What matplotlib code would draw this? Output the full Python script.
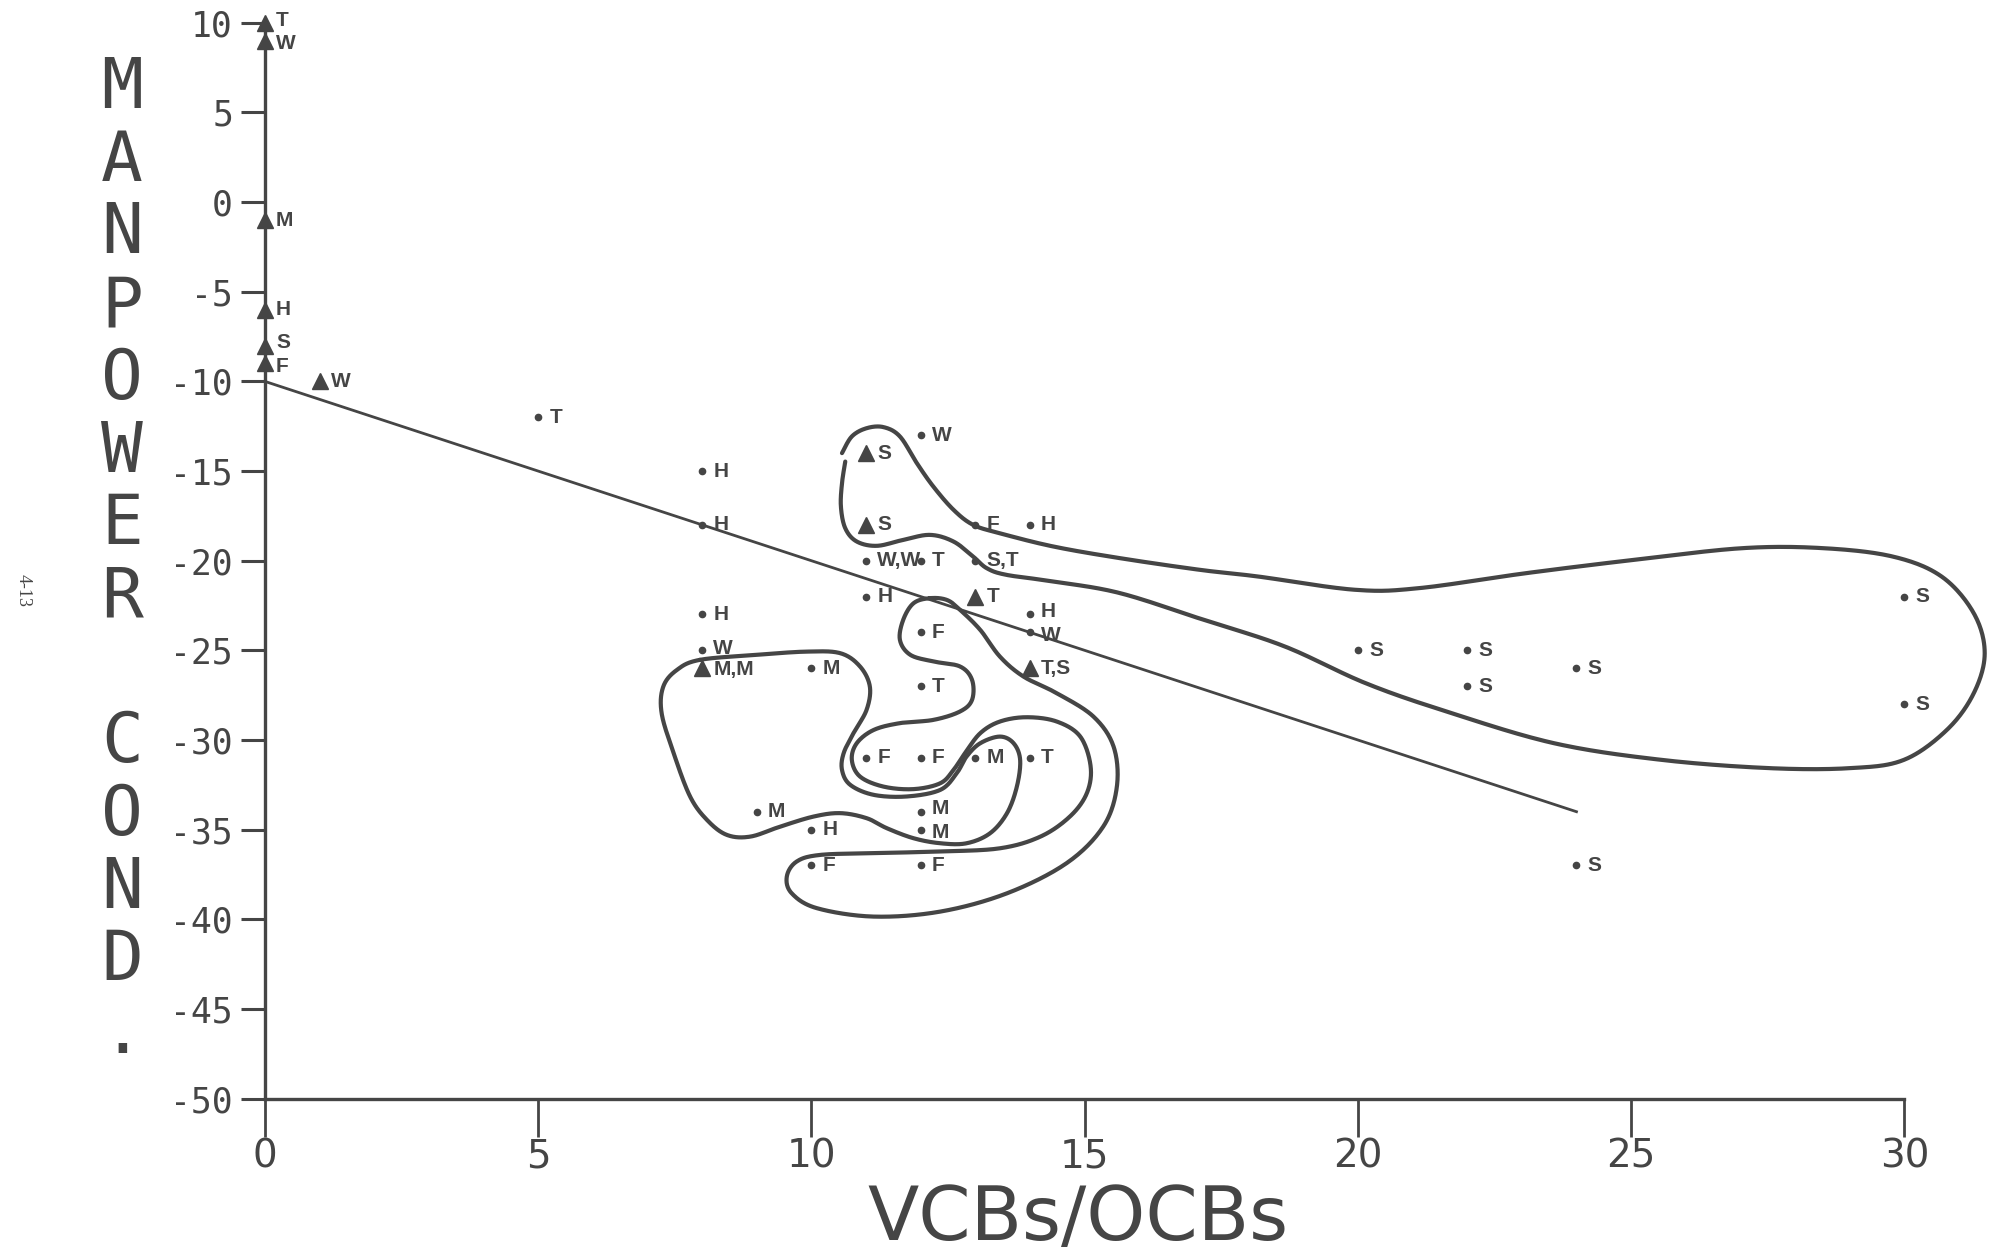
import numpy as np
import matplotlib
matplotlib.use("Agg")
import matplotlib.pyplot as plt

plt.rcParams['axes.unicode_minus'] = False

INK = '#454545'

# ---------------- data ----------------
pt_x = [0, 0, 0, 0, 0, 0, 1, 5, 8, 8, 11, 12, 11, 13, 14, 11, 12, 13, 11, 13,
        8, 14, 14, 12, 8, 8, 10, 14, 12, 20, 22, 22, 24, 30, 30, 24,
        11, 12, 13, 14, 9, 12, 10, 12, 10, 12]
pt_y = [10, 9, -1, -6, -8, -9, -10, -12, -15, -18, -14, -13, -18, -18, -18, -20, -20, -20, -22, -22,
        -23, -23, -24, -24, -25, -26, -26, -26, -27, -25, -25, -27, -26, -22, -28, -37,
        -31, -31, -31, -31, -34, -34, -35, -35, -37, -37]
pt_label = ['T', 'W', 'M', 'H', 'S', 'F', 'W', 'T', 'H', 'H', 'S', 'W', 'S', 'F', 'H', 'W,W', 'T', 'S,T', 'H', 'T',
            'H', 'H', 'W', 'F', 'W', 'M,M', 'M', 'T,S', 'T', 'S', 'S', 'S', 'S', 'S', 'S', 'S',
            'F', 'F', 'M', 'T', 'M', 'M', 'H', 'M', 'F', 'F']
pt_kind = ['tri', 'tri', 'tri', 'tri', 'tri', 'tri', 'tri', 'dot', 'dot', 'dot', 'tri', 'dot', 'tri', 'dot', 'dot', 'dot', 'dot', 'dot', 'dot', 'tri',
           'dot', 'dot', 'dot', 'dot', 'dot', 'tri', 'dot', 'tri', 'dot', 'dot', 'dot', 'dot', 'dot', 'dot', 'dot', 'dot',
           'dot', 'dot', 'dot', 'dot', 'dot', 'dot', 'dot', 'dot', 'dot', 'dot']

# regression line
reg_x = [0, 24]
reg_y = [-10, -34]

# hand-drawn contours (data units)
contour_s = [(10.56, -14.00), (10.74, -13.07), (11.01, -12.61), (11.32, -12.55), (11.62, -13.07),
             (11.93, -14.56), (12.23, -15.86), (12.60, -17.16), (12.96, -18.00), (13.45, -18.47),
             (14.43, -19.21), (15.65, -19.86), (17.11, -20.51), (18.17, -20.88), (19.94, -21.62),
             (21.12, -21.53), (23.09, -20.69), (25.06, -19.95), (27.04, -19.30), (28.51, -19.30),
             (29.79, -19.77), (30.68, -20.88), (31.27, -22.93), (31.47, -25.16), (31.27, -27.39),
             (30.78, -29.43), (29.99, -31.11), (29.01, -31.57), (27.53, -31.57), (25.56, -31.11),
             (23.59, -30.18), (21.62, -28.41), (20.14, -26.83), (18.66, -24.78), (17.18, -23.30),
             (15.65, -21.81), (14.43, -21.16), (13.57, -20.79), (13.21, -20.42), (12.96, -19.77),
             (12.60, -18.93), (12.17, -18.56), (11.68, -18.84), (11.20, -19.17), (10.83, -18.93),
             (10.62, -18.19), (10.54, -16.98), (10.56, -15.68), (10.62, -14.47)]

contour_m = [(7.96, -25.53), (9.00, -25.25), (9.92, -25.07), (10.53, -25.16), (10.89, -25.90),
             (11.07, -27.02), (11.01, -28.32), (10.77, -29.62), (10.59, -30.74), (10.56, -31.67),
             (10.71, -32.50), (11.14, -33.06), (11.75, -33.15), (12.36, -32.78), (12.66, -31.85),
             (12.84, -30.92), (13.09, -30.18), (13.45, -29.81), (13.70, -30.18), (13.82, -31.11),
             (13.76, -32.60), (13.58, -34.08), (13.27, -35.20), (12.84, -35.76), (12.36, -35.76),
             (11.87, -35.48), (11.38, -34.92), (11.01, -34.36), (10.53, -34.08), (10.04, -34.27),
             (9.43, -34.83), (8.88, -35.39), (8.45, -35.29), (8.09, -34.46), (7.78, -33.15),
             (7.48, -30.74), (7.26, -28.51), (7.29, -27.02), (7.54, -26.09)]

contour_f = [(12.17, -22.09), (11.87, -22.37), (11.68, -23.30), (11.62, -24.42), (11.81, -25.25),
             (12.23, -25.62), (12.72, -25.90), (12.94, -26.65), (12.94, -27.76), (12.72, -28.41),
             (12.23, -28.88), (11.62, -29.06), (11.14, -29.44), (10.83, -30.18), (10.74, -31.11),
             (10.89, -32.04), (11.32, -32.60), (11.87, -32.74), (12.36, -32.41), (12.60, -31.67),
             (12.81, -30.74), (13.09, -29.62), (13.45, -28.97), (13.94, -28.73), (14.49, -28.97),
             (14.92, -29.81), (15.11, -31.48), (15.04, -32.97), (14.73, -34.27), (14.19, -35.39),
             (13.45, -36.04), (12.36, -36.22), (11.14, -36.31), (10.16, -36.41), (9.73, -36.78),
             (9.55, -37.62), (9.64, -38.55), (10.10, -39.38), (11.14, -39.85), (12.36, -39.57),
             (13.58, -38.55), (14.67, -36.87), (15.34, -34.83), (15.59, -32.60), (15.53, -30.37),
             (15.16, -28.69), (14.49, -27.39), (13.88, -26.46), (13.45, -25.35), (13.09, -23.86),
             (12.72, -22.74), (12.48, -22.19)]

x_ticks = [0, 5, 10, 15, 20, 25, 30]
y_ticks = [10, 5, 0, -5, -10, -15, -20, -25, -30, -35, -40, -45, -50]
x_title = 'VCBs/OCBs'
y_title = 'MANPOWER COND.'
page_note = '4-13'

# small vertical nudges (points) for labels of points that sit one unit apart
label_nudge = {0: 2, 1: -2, 4: 2, 5: -2, 21: 2, 22: -2, 41: 2, 43: -2, 24: 1, 25: -1}


def catmull_rom(points, closed, n=24):
    P = np.asarray(points, dtype=float)
    if closed:
        P = np.vstack([P[-1], P, P[0], P[1]])
    else:
        P = np.vstack([P[0], P, P[-1]])
    segs = []
    t = np.linspace(0, 1, n, endpoint=False)[:, None]
    for i in range(1, len(P) - 2):
        p0, p1, p2, p3 = P[i - 1], P[i], P[i + 1], P[i + 2]
        segs.append(0.5 * (2 * p1 + (-p0 + p2) * t + (2 * p0 - 5 * p1 + 4 * p2 - p3) * t ** 2
                           + (-p0 + 3 * p1 - 3 * p2 + p3) * t ** 3))
    segs.append(P[-2][None, :])
    return np.vstack(segs)


fig = plt.figure(figsize=(19.96, 12.56), dpi=100)
ax = fig.add_axes([0.1245, 0.1182, 0.8734, 0.8779])
ax.set_xlim(-0.3, 31.6)
ax.set_ylim(-50.5, 11.0)

# contours
for pts, closed in [(contour_s, False), (contour_m, True), (contour_f, True)]:
    c = catmull_rom(pts, closed)
    ax.plot(c[:, 0], c[:, 1], color=INK, lw=3.0, solid_capstyle='round', zorder=2)

# regression line
ax.plot(reg_x, reg_y, color=INK, lw=2.0, zorder=2)

# points and labels
for i, (x, y, lab, kind) in enumerate(zip(pt_x, pt_y, pt_label, pt_kind)):
    if kind == 'tri':
        ax.plot(x, y, marker='^', ms=11, color=INK, mec=INK, ls='none', zorder=4, clip_on=False)
    else:
        ax.plot(x, y, marker='o', ms=4.5, color=INK, mec=INK, ls='none', zorder=4, clip_on=False)
    ax.annotate(lab, (x, y), xytext=(8, label_nudge.get(i, 0)), textcoords='offset points',
                va='center', ha='left', fontsize=15, fontweight='bold', color=INK,
                family=['Liberation Sans', 'DejaVu Sans'], annotation_clip=False)

# axes styling
for s in ['top', 'right']:
    ax.spines[s].set_visible(False)
ax.spines['left'].set_position(('data', 0))
ax.spines['left'].set_bounds(-50, 10)
ax.spines['bottom'].set_position(('data', -50))
ax.spines['bottom'].set_bounds(0, 30)
for s in ['left', 'bottom']:
    ax.spines[s].set_color(INK)
    ax.spines[s].set_linewidth(2.4)

ax.set_xticks(x_ticks)
ax.set_xticklabels([str(v) for v in x_ticks], family=['Liberation Sans Narrow', 'DejaVu Sans'],
                   fontsize=28, color=INK)
ax.set_yticks(y_ticks)
ax.set_yticklabels([str(v) for v in y_ticks], family=['DejaVu Sans Mono'], fontsize=25, color=INK)
ax.tick_params(axis='x', direction='out', length=27, width=2.0, pad=1, color=INK)
ax.tick_params(axis='y', direction='out', length=17, width=2.2, pad=6, color=INK)
ax.patch.set_alpha(0)

# axis titles
fig.text(1078 / 1996, 16 / 1256, x_title, ha='center', va='baseline', fontsize=54,
         color=INK, family=['DejaVu Sans'])
pitch = 72.7
letters = list(y_title.replace(' ', '\u00a0'))
for i, ch in enumerate(letters):
    if ch == '\u00a0':
        continue
    fig.text(122 / 1996, 1 - (108 + i * pitch) / 1256, ch, ha='center', va='baseline',
             fontsize=50, color=INK, family=['DejaVu Sans Mono'])

fig.text(23 / 1996, 1 - 590 / 1256, page_note, rotation=270, ha='center', va='center',
         fontsize=13, color=INK, family=['Liberation Serif', 'DejaVu Serif'])

fig.savefig('out.png', dpi=100)
